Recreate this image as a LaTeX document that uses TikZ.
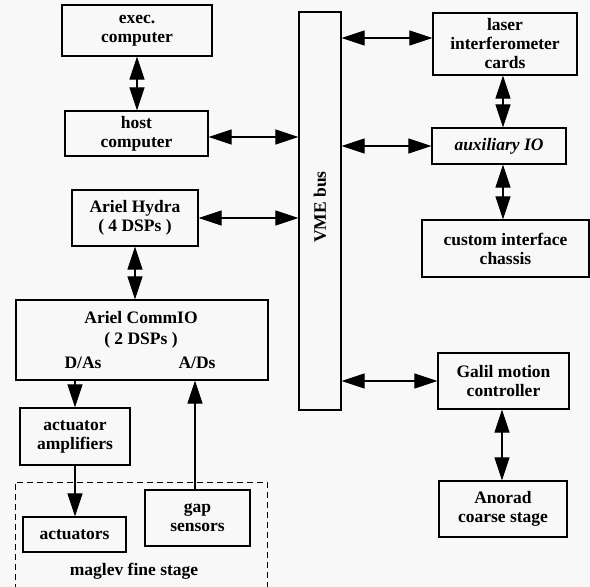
\documentclass[tikz,border=0pt]{standalone}
\usepackage{fontspec}
\setmainfont{Liberation Serif}
\usetikzlibrary{arrows.meta}
\definecolor{bgc}{RGB}{248,248,248}
\tikzset{
  box/.style={draw, line width=1.2pt, inner sep=0pt, align=center,
    font=\bfseries\fontsize{17.5}{19}\selectfont},
  lbl/.style={inner sep=0pt, font=\bfseries\fontsize{17.5}{19}\selectfont},
  dbl/.style={line width=1.1pt, {Triangle[length=23pt,width=15pt]}-{Triangle[length=23pt,width=15pt]}},
  sgl/.style={line width=1.1pt, -{Triangle[length=23pt,width=15pt]}},
  stageline/.style={line width=0.8pt, dash pattern=on 6pt off 4pt}
}
\begin{document}
\begin{tikzpicture}[x=1pt,y=-1pt]
\fill[bgc] (0,0) rectangle (590,587);
\useasboundingbox (0,0) rectangle (590,587);
% left column
\node[box, minimum width=150pt, minimum height=51pt] (exec) at (137,30.5) {exec.\\computer};
\node[box, minimum width=143pt, minimum height=45pt] (host) at (136.5,133.5) {host\\computer};
\node[box, minimum width=126pt, minimum height=56pt] (hydra) at (135,218) {Ariel Hydra\\( 4 DSPs )};
\node[box, minimum width=252pt, minimum height=80pt] (commio) at (142,340) {};
\node[lbl, align=center] (commtxt) at (141,330) {Ariel CommIO\\[2pt]( 2 DSPs )};
\node[lbl, anchor=base] (da) at (83,368) {D/As};
\node[lbl, anchor=base] (ad) at (197,368) {A/Ds};
\node[box, minimum width=110pt, minimum height=57pt] (amp) at (75,436.5) {actuator\\amplifiers};
\node[box, minimum width=103pt, minimum height=35pt] (act) at (74.5,534.5) {actuators};
\node[box, minimum width=105pt, minimum height=56pt] (gap) at (197.5,518) {gap\\sensors};
\node[lbl] (maglev) at (134,571) {maglev fine stage};
\draw[stageline] (15,590) -- (15,482) -- (267,482) -- (267,590);
% VME bus
\node[box, minimum width=42pt, minimum height=398pt] (vme) at (320,211) {};
\node[lbl, rotate=90] (vmetxt) at (320,207) {VME bus};
% right column
\node[box, minimum width=144pt, minimum height=62pt] (laser) at (505,44) {laser\\interferometer\\cards};
\node[box, minimum width=134pt, minimum height=36pt, font=\bfseries\itshape\fontsize{17.5}{19}\selectfont] (aux) at (499,146) {auxiliary IO};
\node[box, minimum width=167pt, minimum height=57pt] (custom) at (505.5,248.5) {custom interface\\chassis};
\node[box, minimum width=131pt, minimum height=56pt] (galil) at (503.5,381) {Galil motion\\controller};
\node[box, minimum width=128pt, minimum height=56pt] (anorad) at (503,509) {Anorad\\coarse stage};
% connectors
\draw[dbl] (exec.south) -- (exec.south |- host.north);
\draw[dbl] ([yshift=-3.5pt]host.east) -- ([yshift=-3.5pt]host.east -| vme.west);
\draw[dbl] (hydra.east) -- (hydra.east -| vme.west);
\draw[dbl] (hydra.south) -- (hydra.south |- commio.north);
\draw[sgl] (amp.north |- commio.south) -- (amp.north);
\draw[sgl] (amp.south) -- (amp.south |- act.north);
\draw[sgl] ([xshift=-2.5pt]gap.north) -- ([xshift=-2.5pt]gap.north |- commio.south);
\draw[dbl] ([yshift=6pt]laser.west -| vme.east) -- ([yshift=6pt]laser.west);
\draw[dbl] (aux.west -| vme.east) -- (aux.west);
\draw[dbl] (galil.west -| vme.east) -- (galil.west);
\draw[dbl] ([xshift=4pt]aux.north) -- ([xshift=4pt]aux.north |- laser.south);
\draw[dbl] ([xshift=4pt]aux.south) -- ([xshift=4pt]aux.south |- custom.north);
\draw[dbl] ([xshift=-1.5pt]galil.south) -- ([xshift=-1.5pt]galil.south |- anorad.north);
\end{tikzpicture}
\end{document}
